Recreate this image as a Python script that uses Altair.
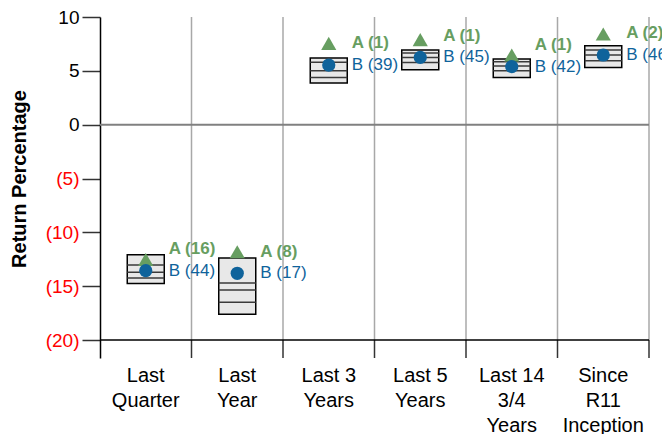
import altair as alt
import pandas as pd

categories = ["Last|Quarter", "Last|Year", "Last 3|Years", "Last 5|Years",
              "Last 14|3/4|Years", "Since|R11|Inception"]
box_top = [-12.07, -12.38, 6.19, 6.93, 6.10, 7.33]
line_1 = [-13.03, -14.70, 5.80, 6.65, 5.85, 6.93]
line_2 = [-13.71, -15.35, 5.01, 6.25, 5.45, 6.47]
line_3 = [-14.23, -16.50, 4.39, 5.78, 5.00, 5.94]
box_bottom = [-14.76, -17.60, 3.87, 5.10, 4.39, 5.32]
a_values = [-12.52, -11.80, 7.55, 7.90, 6.47, 8.42]
b_values = [-13.56, -13.80, 5.54, 6.25, 5.39, 6.47]
a_ranks = [16, 8, 1, 1, 1, 2]
b_ranks = [44, 17, 39, 45, 42, 46]
y_ticks = [-20, -15, -10, -5, 0, 5, 10]
y_min, y_max = -21.67, 10

GREEN = "#679e61"
BLUE = "#0f639b"
FONT = "Liberation Sans"

df = pd.DataFrame({
    "cat": categories, "top": box_top, "bottom": box_bottom,
    "a": a_values, "b": b_values,
    "a_text": [f"A ({r})" for r in a_ranks],
    "b_text": [f"B ({r})" for r in b_ranks],
})
lines = pd.DataFrame({
    "cat": categories * 3,
    "value": line_1 + line_2 + line_3,
})

xscale = alt.Scale(type="band", domain=categories, paddingInner=0, paddingOuter=0)
x_axis = alt.Axis(title=None, labelExpr="split(datum.label, '|')", labelAngle=0,
                  ticks=False, domain=False, grid=False, labelFontSize=20,
                  labelLineHeight=25, labelPadding=7, labelColor="#000",
                  labelFont=FONT, labelBaseline="top")
x_enc = alt.X("cat:N", scale=xscale, axis=x_axis, sort=categories)

yscale = alt.Scale(domain=[y_min, y_max], nice=False, zero=False)
y_axis = alt.Axis(
    values=y_ticks,
    labelExpr="datum.value < 0 ? '(' + abs(datum.value) + ')' : '' + datum.value",
    labelColor={"condition": {"test": "datum.value < 0", "value": "#ff0000"}, "value": "#000000"},
    labelFontSize=19, labelFont=FONT, labelPadding=3,
    tickSize=18, tickColor="#333333", tickWidth=1.5,
    domainColor="#000000", domainWidth=1.5, grid=False,
    title="Return Percentage", titleFontSize=20, titleFontWeight="bold",
    titleFont=FONT, titleColor="#000", titleBaseline="middle",
    titleX=-81, titleY=161.5, titleAngle=270,
)

base = alt.Chart(df)

vgrid = base.mark_rule(color="#a8a8a8", strokeWidth=1.5).encode(
    x=alt.X("cat:N", scale=xscale, bandPosition=1, axis=x_axis, sort=categories),
    y=alt.Y(datum=y_max, scale=yscale, axis=y_axis),
    y2=alt.Y2(datum=-20),
)
vticks = base.mark_rule(color="#333333", strokeWidth=1.5).encode(
    x=alt.X("cat:N", scale=xscale, bandPosition=1, sort=categories),
    y=alt.Y(datum=-20),
    y2=alt.Y2(datum=y_min),
)
zero_line = alt.Chart(pd.DataFrame({"v": [0]})).mark_rule(
    color="#808080", strokeWidth=2).encode(y=alt.Y("v:Q"))
bottom_line = alt.Chart(pd.DataFrame({"v": [-20]})).mark_rule(
    color="#000000", strokeWidth=1.5).encode(y=alt.Y("v:Q"))

boxes = base.mark_bar(size=37, fill="#e8e8e8", stroke="#000000", strokeWidth=1.5).encode(
    x=x_enc, y=alt.Y("top:Q"), y2="bottom")
inner = alt.Chart(lines).mark_tick(size=37, thickness=1.5, color="#3a3a3a", opacity=1).encode(
    x=x_enc, y=alt.Y("value:Q"))
tri = base.mark_point(shape="triangle-up", filled=True, size=230, color=GREEN, opacity=1).encode(
    x=x_enc, y=alt.Y("a:Q"))
circ = base.mark_circle(size=175, color=BLUE, opacity=1).encode(
    x=x_enc, y=alt.Y("b:Q"))
a_lab = base.transform_calculate(ly="max(datum.a, datum.b + 2)").mark_text(
    align="left", baseline="middle", dx=23, fontSize=17, fontWeight="bold",
    color=GREEN, font=FONT).encode(x=x_enc, y=alt.Y("ly:Q"), text="a_text:N")
b_lab = base.mark_text(
    align="left", baseline="middle", dx=23, fontSize=17,
    color=BLUE, font=FONT).encode(x=x_enc, y=alt.Y("b:Q"), text="b_text:N")

chart = alt.layer(vgrid, vticks, zero_line, bottom_line, boxes, inner, tri, circ, a_lab, b_lab).properties(
    width=549, height=341,
    autosize=alt.AutoSizeParams(type="none"),
    padding={"left": 92, "top": 9, "right": 13, "bottom": 76},
).configure_view(stroke=None)

chart.save("out.html", embed_options={"renderer": "svg", "actions": False})
